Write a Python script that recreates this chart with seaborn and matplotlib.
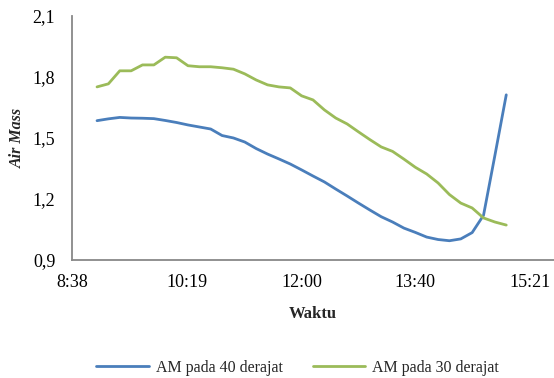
import matplotlib
matplotlib.use("Agg")
import matplotlib.pyplot as plt
import seaborn as sns
import pandas as pd

# Observation times (minutes after midnight), every 10 minutes from 9:00 to 15:00
times = list(range(540, 901, 10))

am_40 = [1.585, 1.594, 1.601, 1.598, 1.597, 1.595, 1.586, 1.576, 1.564, 1.554,
         1.544, 1.512, 1.500, 1.480, 1.448, 1.421, 1.397, 1.372, 1.343, 1.313,
         1.284, 1.249, 1.215, 1.180, 1.146, 1.113, 1.087, 1.057, 1.036, 1.013,
         1.001, 0.995, 1.004, 1.035, 1.120, 1.414, 1.712]

am_30 = [1.751, 1.766, 1.830, 1.830, 1.859, 1.859, 1.897, 1.894, 1.855, 1.850,
         1.850, 1.845, 1.838, 1.815, 1.785, 1.761, 1.751, 1.746, 1.707, 1.687,
         1.638, 1.598, 1.569, 1.530, 1.492, 1.456, 1.434, 1.396, 1.356, 1.323,
         1.279, 1.222, 1.180, 1.156, 1.107, 1.087, 1.072]

series_names = ["AM pada 40 derajat", "AM pada 30 derajat"]
x_ticks = [518, 619, 720, 820, 921]
x_tick_labels = ["8:38", "10:19", "12:00", "13:40", "15:21"]
y_ticks = [0.9, 1.2, 1.5, 1.8, 2.1]
y_tick_labels = ["0,9", "1,2", "1,5", "1,8", "2,1"]

df = pd.DataFrame({
    "Waktu": times * 2,
    "Air Mass": am_40 + am_30,
    "Seri": [series_names[0]] * len(times) + [series_names[1]] * len(times),
})

sns.set_theme(style="white")
plt.rcParams["font.family"] = ["Liberation Serif", "DejaVu Serif"]

fig = plt.figure(figsize=(5.54, 3.78), dpi=100)
ax = fig.add_axes([0.13, 0.312, 0.87, 0.646])

palette = {series_names[0]: "#4A7EBB", series_names[1]: "#9BBB59"}
sns.lineplot(data=df, x="Waktu", y="Air Mass", hue="Seri", palette=palette,
             linewidth=2.0, ax=ax, legend=False)

ax.set_xlim(518, 942)
ax.set_ylim(0.9, 2.1)
ax.set_xticks(x_ticks)
ax.set_xticklabels(x_tick_labels)
ax.set_yticks(y_ticks)
ax.set_yticklabels(y_tick_labels)
ax.tick_params(axis="both", length=0, labelsize=13, colors="black")
ax.tick_params(axis="x", pad=10)
ax.tick_params(axis="y", pad=12)

for side in ["top", "right"]:
    ax.spines[side].set_visible(False)
for side in ["left", "bottom"]:
    ax.spines[side].set_color("#888888")
    ax.spines[side].set_linewidth(1.3)

ax.set_xlabel("Waktu", fontsize=12, fontweight="bold", labelpad=11)
ax.set_ylabel("Air Mass", fontsize=11.5, fontweight="bold", style="italic", labelpad=5)

handles = [plt.Line2D([], [], color=palette[n], linewidth=2.0) for n in series_names]
fig.legend(handles, series_names, loc="center", bbox_to_anchor=(0.537, 0.027),
           ncol=2, frameon=False, fontsize=11.5, handlelength=3.3,
           columnspacing=1.9, handletextpad=0.4)

fig.savefig("out.png", dpi=100)
